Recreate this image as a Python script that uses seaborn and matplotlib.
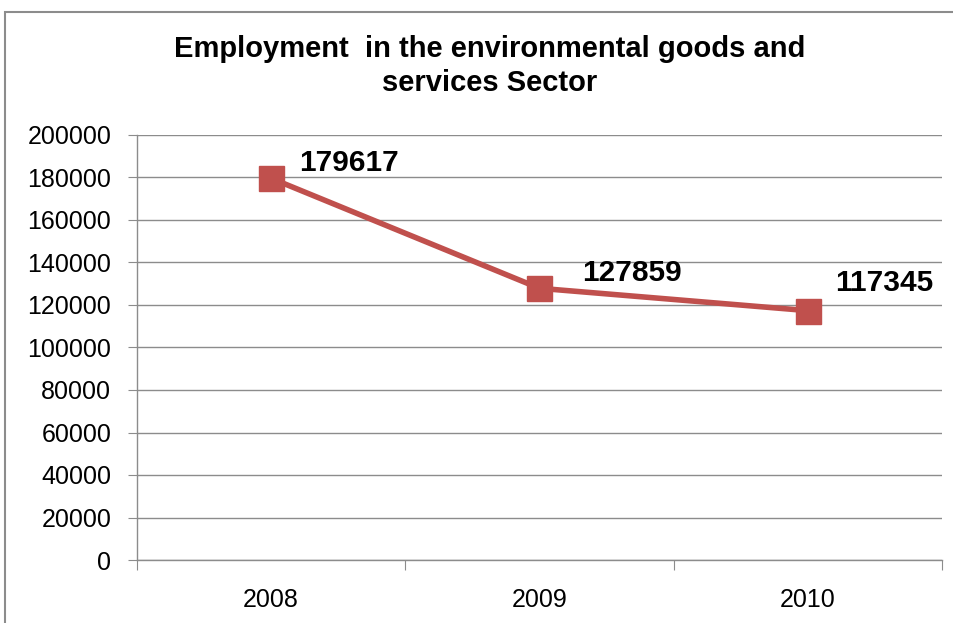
import matplotlib
matplotlib.use("Agg")
import matplotlib.pyplot as plt
import seaborn as sns
import pandas as pd
from matplotlib.patches import Rectangle

years = ["2008", "2009", "2010"]
employment = [179617, 127859, 117345]
y_ticks = [0, 20000, 40000, 60000, 80000, 100000, 120000, 140000, 160000, 180000, 200000]
title = "Employment  in the environmental goods and\nservices Sector"

sns.set_style("white")
plt.rcParams["font.family"] = ["Liberation Sans", "DejaVu Sans"]
plt.rcParams["text.color"] = "black"
plt.rcParams["xtick.color"] = "black"
plt.rcParams["ytick.color"] = "black"

df = pd.DataFrame({"year": years, "employment": employment})

fig = plt.figure(figsize=(9.54, 6.23), dpi=100)
ax = fig.add_axes([137/954, 1-560/623, (942-137)/954, (560-135)/623])

line_color = "#C0504D"
sns.pointplot(data=df, x="year", y="employment", order=years, ax=ax,
              color=line_color, marker="s", errorbar=None,
              markersize=18, linewidth=4, markeredgewidth=1,
              markeredgecolor=line_color)

ax.set_xlim(-0.5, 2.5)
ax.set_ylim(0, 200000)
ax.set_yticks(y_ticks)
ax.set_yticklabels([str(v) for v in y_ticks])
ax.set_xticks([-0.5, 0.5, 1.5, 2.5])
ax.set_xticklabels([])
ax.set_xticks([0, 1, 2], minor=True)
ax.set_xticklabels(years, minor=True)
ax.set_xlabel("")
ax.set_ylabel("")

grid_c = "#8C8C8C"
ax.grid(axis="y", color=grid_c, linewidth=1)
ax.grid(axis="x", visible=False)
ax.set_axisbelow(True)
for s in ["top", "right"]:
    ax.spines[s].set_visible(False)
for s in ["left", "bottom"]:
    ax.spines[s].set_color(grid_c)
    ax.spines[s].set_linewidth(1)

ax.tick_params(axis="y", which="major", length=6.5, width=0.8, color=grid_c,
               labelcolor="black", direction="out", labelsize=18, pad=12, left=True)
ax.tick_params(axis="x", which="major", length=7, width=0.8, color=grid_c,
               direction="out", bottom=True)
ax.tick_params(axis="x", which="minor", length=0, labelsize=18, pad=20,
               labelcolor="black")

label_offsets = [(20, 11), (31, 11), (20, 20)]
for i, (v, off) in enumerate(zip(employment, label_offsets)):
    ax.annotate(str(v), xy=(i, v), xytext=off, textcoords="offset points",
                ha="left", va="center", fontsize=21.5, fontweight="bold",
                color="black")

fig.text(490/954, 1-66/623, title, ha="center", va="center", color="black",
         fontsize=21, fontweight="bold", linespacing=1.3)

fig.patches.append(Rectangle((5/954, -0.05), 1.2, 1-12/623+0.05,
                             transform=fig.transFigure, fill=False,
                             edgecolor="#8C8C8C", linewidth=1.5))

fig.savefig("out.png", dpi=100, facecolor="white")
